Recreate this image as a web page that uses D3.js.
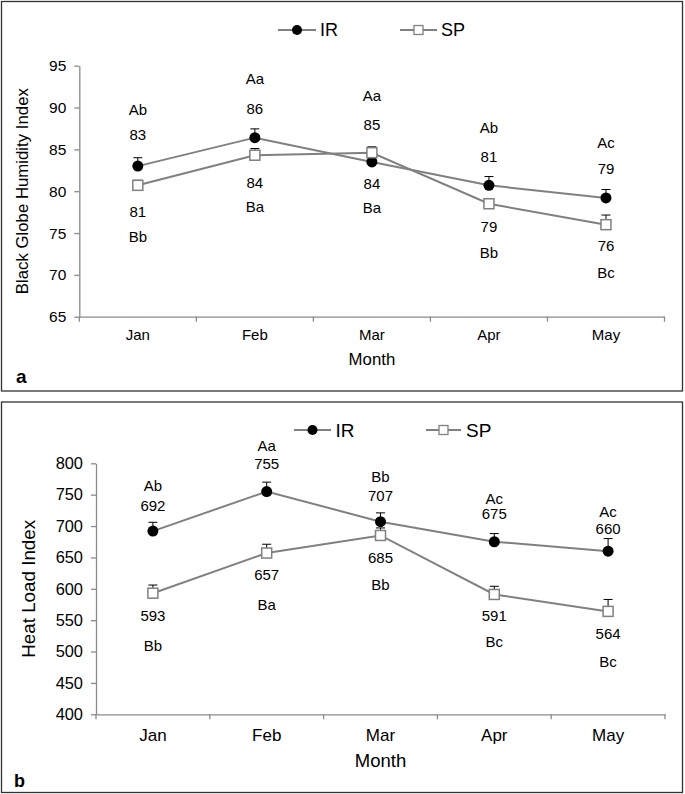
<!DOCTYPE html>
<html>
<head>
<meta charset="utf-8">
<script src="https://cdn.jsdelivr.net/npm/d3@7"></script>
<style>
  body { margin: 0; background: #fff; }
  svg { display: block; font-family: "Liberation Sans", Arial, sans-serif; }
</style>
</head>
<body>
<svg id="chart" width="685" height="794"></svg>
<script>
const months = ['Jan', 'Feb', 'Mar', 'Apr', 'May'];
const seriesNames = ['IR', 'SP'];

// panel a: black globe humidity index
const bghiIR = [83.0, 86.4, 83.5, 80.7, 79.2];
const bghiSP = [80.7, 84.3, 84.6, 78.5, 76.0];
const bghiIRErr = [1.0, 1.05, 0.8, 1.05, 1.0];
const bghiSPErr = [0.6, 0.8, 0.7, 0.6, 1.15];
const bghiTicks = [65, 70, 75, 80, 85, 90, 95];
const bghiTopLetter = ['Ab', 'Aa', 'Aa', 'Ab', 'Ac'];
const bghiTopNum = ['83', '86', '85', '81', '79'];
const bghiBotNum = ['81', '84', '84', '79', '76'];
const bghiBotLetter = ['Bb', 'Ba', 'Ba', 'Bb', 'Bc'];
// where the annotations sit, in index units
const bghiTopLetterAt = [89.7, 93.5, 91.4, 87.6, 85.8];
const bghiTopNumAt = [86.8, 89.9, 88.0, 84.1, 82.7];
const bghiBotNumAt = [77.6, 81.0, 80.9, 75.8, 73.5];
const bghiBotLetterAt = [74.5, 78.1, 78.0, 72.6, 70.3];

// panel b: heat load index
const hliIR = [692, 755, 707, 675, 660];
const hliSP = [593, 657, 685, 591, 564];
const hliIRErr = [14, 15, 14, 13, 20];
const hliSPErr = [13, 14, 12, 13, 19];
const hliTicks = [400, 450, 500, 550, 600, 650, 700, 750, 800];
const hliTopLetter = ['Ab', 'Aa', 'Bb', 'Ac', 'Ac'];
const hliTopNum = ['692', '755', '707', '675', '660'];
const hliBotNum = ['593', '657', '685', '591', '564'];
const hliBotLetter = ['Bb', 'Ba', 'Bb', 'Bc', 'Bc'];
const hliTopLetterAt = [764, 828, 779, 744, 723];
const hliTopNumAt = [733, 799, 749, 719, 695];
const hliBotNumAt = [557, 622, 650, 557, 529];
const hliBotLetterAt = [510, 575, 607, 516, 484];

const lineColor = '#808080';
const axisColor = '#8a8a8a';

const svg = d3.select('#chart');

function drawPanel(cfg) {
    let g = svg.append('g');

    g.append('rect')
        .attr('x', cfg.box[0]).attr('y', cfg.box[1])
        .attr('width', cfg.box[2]).attr('height', cfg.box[3])
        .attr('fill', 'none').attr('stroke', '#333').attr('stroke-width', 1.3);

    let x = d3.scaleBand().domain(months).range(cfg.xRange).paddingInner(0).paddingOuter(0);
    let y = d3.scaleLinear().domain(d3.extent(cfg.ticks)).range(cfg.yRange);
    let cx = m => x(m) + x.bandwidth() / 2;

    // y axis
    let ya = g.append('g')
        .attr('transform', `translate(${cfg.xRange[0]},0)`)
        .call(d3.axisLeft(y).tickValues(cfg.ticks).tickSize(5).tickPadding(8).tickSizeOuter(0));
    ya.select('.domain').attr('stroke', axisColor).attr('stroke-width', 1.3);
    ya.selectAll('.tick line').attr('stroke', axisColor).attr('stroke-width', 1.3);
    ya.selectAll('.tick text')
        .attr('font-family', '"Liberation Sans", Arial, sans-serif')
        .attr('font-size', cfg.tickFont).attr('fill', '#000');

    // x axis, labels centred, ticks on category boundaries
    let xa = g.append('g')
        .attr('transform', `translate(0,${cfg.yRange[0]})`)
        .call(d3.axisBottom(x).tickSize(0).tickPadding(cfg.xPad).tickSizeOuter(0));
    xa.select('.domain').attr('stroke', axisColor).attr('stroke-width', 1.3);
    xa.selectAll('.tick text')
        .attr('font-family', '"Liberation Sans", Arial, sans-serif')
        .attr('font-size', cfg.xFont).attr('fill', '#000');
    let bounds = months.map(m => x(m)).concat([cfg.xRange[1]]);
    xa.selectAll('line.bound').data(bounds).enter().append('line')
        .classed('bound', true)
        .attr('x1', d => d).attr('x2', d => d)
        .attr('y1', 0).attr('y2', 5)
        .attr('stroke', axisColor).attr('stroke-width', 1.3);

    // titles
    g.append('text')
        .attr('transform', `translate(${cfg.yTitlePos[0]},${(cfg.yRange[0] + cfg.yRange[1]) / 2}) rotate(-90)`)
        .attr('text-anchor', 'middle').attr('dy', '0.35em')
        .attr('font-size', cfg.yTitleFont)
        .text(cfg.yTitle);
    g.append('text')
        .attr('x', (cfg.xRange[0] + cfg.xRange[1]) / 2).attr('y', cfg.xTitleY)
        .attr('text-anchor', 'middle').attr('dy', '0.35em')
        .attr('font-size', cfg.xTitleFont)
        .text('Month');
    g.append('text')
        .attr('x', cfg.letterPos[0]).attr('y', cfg.letterPos[1])
        .attr('font-size', cfg.letterFont).attr('font-weight', 'bold')
        .text(cfg.letter);

    let line = d3.line().x((d, i) => cx(months[i])).y(d => y(d));

    [cfg.ir, cfg.sp].forEach((vals, k) => {
        let err = k === 0 ? cfg.irErr : cfg.spErr;
        g.append('path')
            .datum(vals)
            .attr('d', line)
            .attr('fill', 'none')
            .attr('stroke', lineColor)
            .attr('stroke-width', 2);

        let eb = g.selectAll(null).data(vals).enter().append('g');
        eb.append('line')
            .attr('x1', (d, i) => cx(months[i])).attr('x2', (d, i) => cx(months[i]))
            .attr('y1', d => y(d)).attr('y2', (d, i) => y(d + err[i]))
            .attr('stroke', '#000').attr('stroke-width', 1);
        eb.append('line')
            .attr('x1', (d, i) => cx(months[i]) - 4.5).attr('x2', (d, i) => cx(months[i]) + 4.5)
            .attr('y1', (d, i) => y(d + err[i])).attr('y2', (d, i) => y(d + err[i]))
            .attr('stroke', '#000').attr('stroke-width', 1);

        if (k === 0) {
            g.selectAll(null).data(vals).enter().append('circle')
                .attr('cx', (d, i) => cx(months[i])).attr('cy', d => y(d))
                .attr('r', 5.5).attr('fill', '#000');
        } else {
            g.selectAll(null).data(vals).enter().append('rect')
                .attr('x', (d, i) => cx(months[i]) - 5).attr('y', d => y(d) - 5)
                .attr('width', 10).attr('height', 10)
                .attr('fill', '#fff').attr('stroke', lineColor).attr('stroke-width', 1.5);
        }
    });

    // annotations
    let ann = [
        [cfg.topLetter, cfg.topLetterAt],
        [cfg.topNum, cfg.topNumAt],
        [cfg.botNum, cfg.botNumAt],
        [cfg.botLetter, cfg.botLetterAt],
    ];
    ann.forEach(([texts, at]) => {
        g.selectAll(null).data(texts).enter().append('text')
            .attr('x', (d, i) => cx(months[i]))
            .attr('y', (d, i) => y(at[i]))
            .attr('dy', '0.35em')
            .attr('text-anchor', 'middle')
            .attr('font-size', cfg.labelFont)
            .text(d => d);
    });

    // legend
    let lg = cfg.legend;
    seriesNames.forEach((name, k) => {
        let l = lg[k];
        g.append('line')
            .attr('x1', l.x1).attr('x2', l.x2).attr('y1', lg.y).attr('y2', lg.y)
            .attr('stroke', lineColor).attr('stroke-width', 2);
        let mx = (l.x1 + l.x2) / 2;
        if (k === 0) {
            g.append('circle').attr('cx', mx).attr('cy', lg.y).attr('r', 5).attr('fill', '#000');
        } else {
            g.append('rect').attr('x', mx - 4.5).attr('y', lg.y - 4.5)
                .attr('width', 9).attr('height', 9)
                .attr('fill', '#fff').attr('stroke', lineColor).attr('stroke-width', 1.3);
        }
        g.append('text')
            .attr('x', l.tx).attr('y', lg.y).attr('dy', '0.35em')
            .attr('font-size', lg.font)
            .text(name);
    });
}

drawPanel({
    box: [1.5, 1.5, 681, 389.5],
    xRange: [79.3, 664.5],
    yRange: [316.7, 65.7],
    ticks: bghiTicks,
    tickFont: 15.5,
    xFont: 15,
    xPad: 13,
    yTitle: 'Black Globe Humidity Index',
    yTitlePos: [22],
    yTitleFont: 16.8,
    xTitleY: 359,
    xTitleFont: 16.8,
    letter: 'a',
    letterPos: [16, 383],
    letterFont: 19,
    labelFont: 15,
    ir: bghiIR, sp: bghiSP, irErr: bghiIRErr, spErr: bghiSPErr,
    topLetter: bghiTopLetter, topNum: bghiTopNum, botNum: bghiBotNum, botLetter: bghiBotLetter,
    topLetterAt: bghiTopLetterAt, topNumAt: bghiTopNumAt, botNumAt: bghiBotNumAt, botLetterAt: bghiBotLetterAt,
    legend: { y: 30, font: 18, 0: { x1: 278, x2: 316, tx: 320 }, 1: { x1: 400, x2: 437, tx: 441 } },
});

drawPanel({
    box: [1.5, 402, 681, 390.5],
    xRange: [96, 665],
    yRange: [714.3, 463.3],
    ticks: hliTicks,
    tickFont: 16.4,
    xFont: 17,
    xPad: 15,
    yTitle: 'Heat Load Index',
    yTitlePos: [28.5],
    yTitleFont: 18.8,
    xTitleY: 760.7,
    xTitleFont: 18.5,
    letter: 'b',
    letterPos: [14, 787],
    letterFont: 18,
    labelFont: 15,
    ir: hliIR, sp: hliSP, irErr: hliIRErr, spErr: hliSPErr,
    topLetter: hliTopLetter, topNum: hliTopNum, botNum: hliBotNum, botLetter: hliBotLetter,
    topLetterAt: hliTopLetterAt, topNumAt: hliTopNumAt, botNumAt: hliBotNumAt, botLetterAt: hliBotLetterAt,
    legend: { y: 430, font: 19, 0: { x1: 294, x2: 331, tx: 335.5 }, 1: { x1: 426, x2: 461, tx: 466 } },
});
</script>
</body>
</html>
